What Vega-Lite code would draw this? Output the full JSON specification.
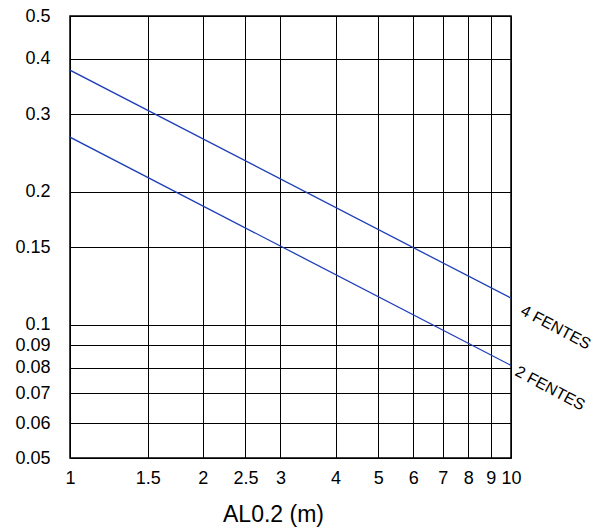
{
  "$schema": "https://vega.github.io/schema/vega-lite/v6.json",
  "width": 441,
  "height": 442,
  "autosize": "none",
  "padding": {"left": 70, "top": 16, "right": 84, "bottom": 72},
  "background": "white",
  "config": {
    "font": "Liberation Sans",
    "view": {"stroke": "#000", "strokeWidth": 1.5},
    "axis": {
      "grid": true,
      "gridColor": "#000",
      "gridOpacity": 1,
      "gridWidth": 1,
      "domain": false,
      "ticks": false,
      "tickSize": 0,
      "labelColor": "#000",
      "labelFont": "Liberation Sans",
      "titleColor": "#000",
      "titleFont": "Liberation Sans",
      "titleFontWeight": "normal",
      "labelOverlap": false,
      "labelBound": false,
      "labelFlush": false
    }
  },
  "data": {
    "values": [
      {"x": 1, "y": 0.377, "series": "4 FENTES"},
      {"x": 10, "y": 0.115, "series": "4 FENTES"},
      {"x": 1, "y": 0.266, "series": "2 FENTES"},
      {"x": 10, "y": 0.081, "series": "2 FENTES"}
    ]
  },
  "encoding": {
    "x": {
      "field": "x",
      "type": "quantitative",
      "scale": {"type": "log", "domain": [1, 10], "nice": false},
      "axis": {
        "title": "AL0.2 (m)",
        "titleFontSize": 23,
        "titlePadding": 16,
        "titleX": 203,
        "titleAnchor": "middle",
        "titleAlign": "center",
        "values": [1, 1.5, 2, 2.5, 3, 4, 5, 6, 7, 8, 9, 10],
        "format": "~g",
        "labelFontSize": 18,
        "labelPadding": 11
      }
    },
    "y": {
      "field": "y",
      "type": "quantitative",
      "scale": {"type": "log", "domain": [0.05, 0.5], "nice": false},
      "axis": {
        "title": null,
        "values": [0.05, 0.06, 0.07, 0.08, 0.09, 0.1, 0.15, 0.2, 0.3, 0.4, 0.5],
        "format": "~g",
        "labelFontSize": 18,
        "labelPadding": 20
      }
    }
  },
  "layer": [
    {
      "mark": {"type": "line", "color": "#1f3fb8", "strokeWidth": 1.3, "clip": true},
      "encoding": {"detail": {"field": "series"}}
    },
    {
      "transform": [{"filter": "datum.x == 10 && datum.series == '4 FENTES'"}],
      "mark": {"type": "text", "align": "left", "baseline": "middle", "angle": 28, "dx": 15, "dy": 5, "fontSize": 16, "color": "#000"},
      "encoding": {"text": {"field": "series"}}
    },
    {
      "transform": [{"filter": "datum.x == 10 && datum.series == '2 FENTES'"}],
      "mark": {"type": "text", "align": "left", "baseline": "middle", "angle": 28, "dx": 7, "dy": 2, "fontSize": 16, "color": "#000"},
      "encoding": {"text": {"field": "series"}}
    }
  ]
}
